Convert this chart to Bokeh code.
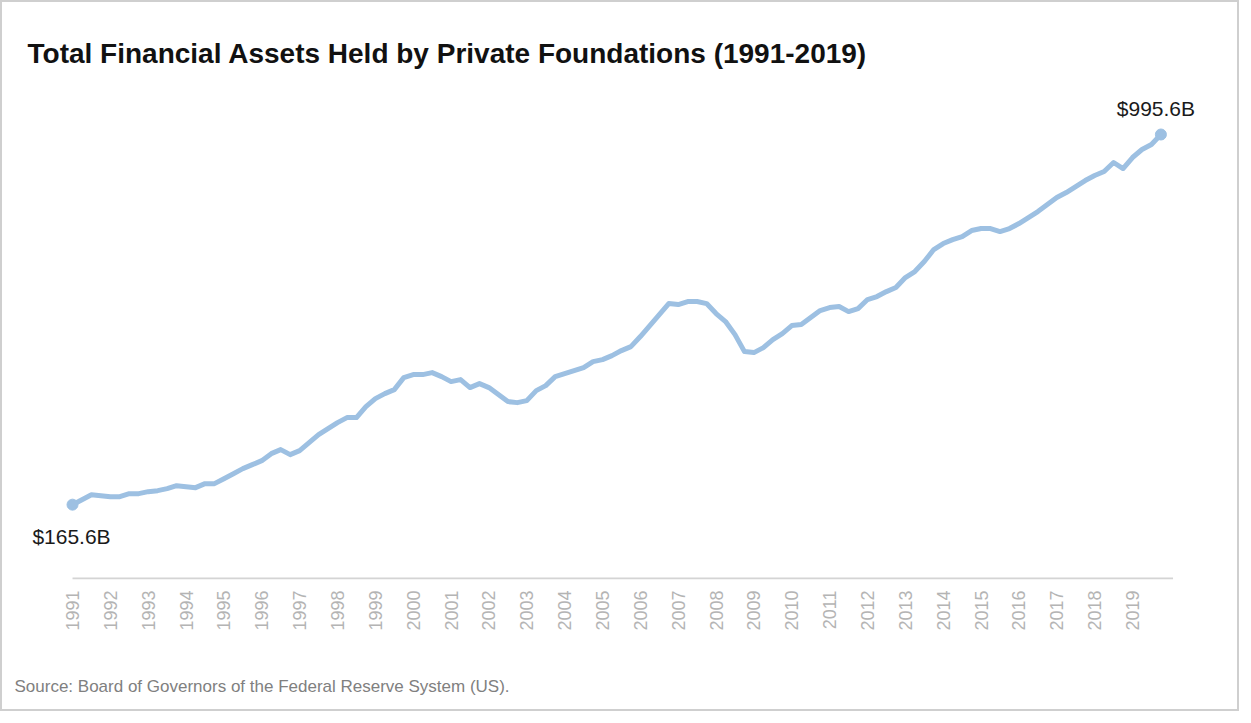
from bokeh.plotting import figure
from bokeh.models import Range1d, FixedTicker, ColumnDataSource, Title
from bokeh.core.properties import value
from bokeh.embed import file_html
from bokeh.resources import INLINE
import math

# ---- data ----
years = list(range(1991, 2020))          # tick labels (one per year)
quarters_per_year = 4
assets_billion = [
    165.6, 176.8, 188.0, 185.8, 183.5, 183.5, 190.3, 190.3, 194.8, 197.0,
    201.5, 208.2, 206.0, 203.7, 212.7, 212.7, 223.9, 235.1, 246.4, 255.3,
    264.3, 280.0, 289.0, 277.8, 286.7, 304.7, 322.6, 336.1, 349.5, 360.8,
    360.8, 385.4, 403.4, 414.6, 423.6, 450.5, 457.2, 457.2, 461.7, 452.7,
    441.5, 446.0, 428.1, 437.0, 428.1, 412.4, 396.7, 394.4, 398.9, 421.3,
    432.5, 452.7, 459.5, 466.2, 472.9, 486.4, 490.9, 499.8, 511.1, 520.0,
    542.5, 567.1, 591.8, 616.5, 614.2, 621.0, 621.0, 616.5, 594.1, 576.1,
    546.9, 508.8, 506.6, 517.8, 535.7, 549.2, 567.1, 569.4, 585.1, 600.8,
    607.5, 609.8, 598.5, 605.3, 625.5, 632.2, 643.4, 652.4, 674.8, 688.3,
    710.7, 737.6, 751.1, 760.0, 766.8, 780.2, 784.7, 784.7, 778.0, 784.7,
    795.9, 809.4, 822.9, 838.5, 854.3, 865.5, 878.9, 892.4, 903.6, 912.6,
    932.8, 919.3, 944.0, 961.9, 973.2, 995.6,
]
title_text = "Total Financial Assets Held by Private Foundations (1991-2019)"
source_text = "Source: Board of Governors of the Federal Reserve System (US)."
first_label = "$165.6B"
last_label = "$995.6B"

quarter_x = [y + q / quarters_per_year for y in years for q in range(quarters_per_year)]

LINE = "#9dc0e2"
FONT = "Liberation Sans"

p = figure(
    width=1239, height=711,
    output_backend="svg", toolbar_location=None,
    x_range=Range1d(1989.415, 2021.377),
    y_range=Range1d(-2.2, 1101.0),
    y_axis_location=None,
    min_border_left=10, min_border_right=19,
    min_border_top=85, min_border_bottom=134,
    styles={"border": "2px solid #cfcfcf"},
)
p.outline_line_color = None
p.grid.visible = False
p.background_fill_color = "white"
p.border_fill_color = "white"

# baseline
p.segment(x0=[years[0]], y0=[0], x1=[quarter_x[-1] + 0.32], y1=[0],
          line_color="#d4d4d4", line_width=2)

src = ColumnDataSource(dict(x=quarter_x, y=assets_billion))
p.line("x", "y", source=src, line_color=LINE, line_width=5, line_join="round", line_cap="round")

ends = ColumnDataSource(dict(
    x=[quarter_x[0], quarter_x[-1]],
    y=[assets_billion[0], assets_billion[-1]],
))
p.scatter("x", "y", source=ends, size=11, fill_color=LINE, line_color=LINE)

p.text(x=[quarter_x[0]], y=[assets_billion[0]], text=[first_label],
       text_font=value(FONT), text_font_size="21px", text_color="#1a1a1a",
       text_align="center", text_baseline="top", y_offset=20, x_offset=-1)
p.text(x=[quarter_x[-1]], y=[assets_billion[-1]], text=[last_label],
       text_font=value(FONT), text_font_size="21px", text_color="#1a1a1a",
       text_align="center", text_baseline="bottom", y_offset=-15, x_offset=-5)

ax = p.xaxis[0]
ax.ticker = FixedTicker(ticks=years)
ax.major_label_orientation = math.pi / 2
ax.major_tick_line_color = None
ax.minor_tick_line_color = None
ax.axis_line_color = None
ax.major_label_standoff = 5
ax.major_label_text_font = FONT
ax.major_label_text_font_size = "18px"
ax.major_label_text_color = "#b4b4b4"

p.title.text = title_text
p.title.align = "left"
p.title.offset = 15
p.title.text_font = FONT
p.title.text_font_size = "28px"
p.title.text_font_style = "bold"
p.title.text_color = "#111111"
p.title.standoff = 37

# spacer below the tick labels, then the source note
p.add_layout(Title(text=" ", text_font=FONT, text_font_size="10px",
                   text_font_style="normal", standoff=16), "below")
p.add_layout(Title(text=source_text, align="left", offset=2, text_font=FONT,
                   text_font_size="17px", text_font_style="normal",
                   text_color="#808080", standoff=24), "below")

open("out.html", "w").write(file_html(p, INLINE))
